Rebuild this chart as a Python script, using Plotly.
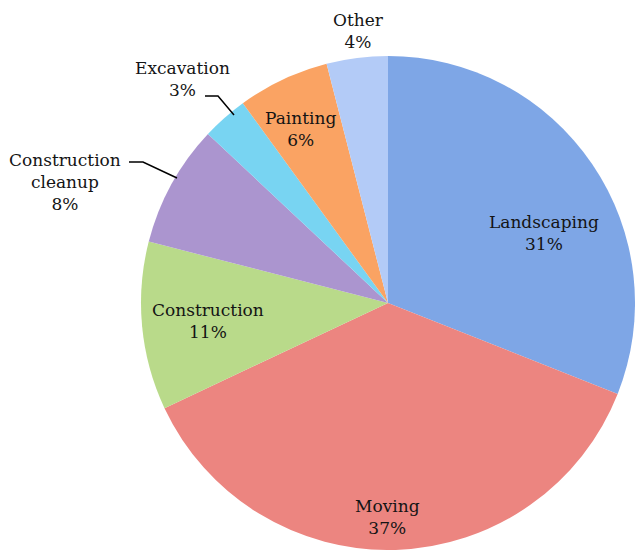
import plotly.graph_objects as go

labels = ["Landscaping", "Moving", "Construction", "Construction<br>cleanup", "Excavation", "Painting", "Other"]
values = [31, 37, 11, 8, 3, 6, 4]
colors = ["#7ea6e6", "#ec8580", "#b9da8a", "#ab95cf", "#78d4f2", "#faa363", "#b3cbf7"]

# label text anchor positions (paper coords) - layout only
label_pos = [(544, 233), (387, 517), (208, 321), (65, 182), (182, 79), (300, 129), (359, 31)]

W, H = 635, 550
fig = go.Figure(go.Pie(
    labels=labels, values=values, sort=False, direction="clockwise", rotation=0,
    marker=dict(colors=colors, line=dict(width=0)),
    textinfo="none", hoverinfo="label+percent", showlegend=False,
    domain=dict(x=[141 / W, 1], y=[0, 494 / H]),
))

annotations = []
for (lab, v, (px, py)) in zip(labels, values, label_pos):
    annotations.append(dict(
        x=px / W, y=1 - py / H, xref="paper", yref="paper",
        text=f"{lab}<br>{v}%", showarrow=False, xanchor="center", yanchor="middle",
        font=dict(family="DejaVu Serif", size=17, color="#141414"),
    ))

def p(x, y):
    return f"{x / W},{1 - y / H}"

shapes = [
    dict(type="path", xref="paper", yref="paper",
         path=f"M{p(205, 96)} L{p(218, 96)} L{p(234, 115)}",
         line=dict(color="#000000", width=1.5)),
    dict(type="path", xref="paper", yref="paper",
         path=f"M{p(129, 162)} L{p(143, 162)} L{p(177, 178)}",
         line=dict(color="#000000", width=1.5)),
]

fig.update_layout(
    width=W, height=H, margin=dict(l=0, r=0, t=0, b=0),
    paper_bgcolor="white", plot_bgcolor="white",
    annotations=annotations, shapes=shapes,
)
fig.write_html("out.html", config={"displayModeBar": False},
               post_script="document.body.style.margin='0';document.body.style.overflow='hidden';")
